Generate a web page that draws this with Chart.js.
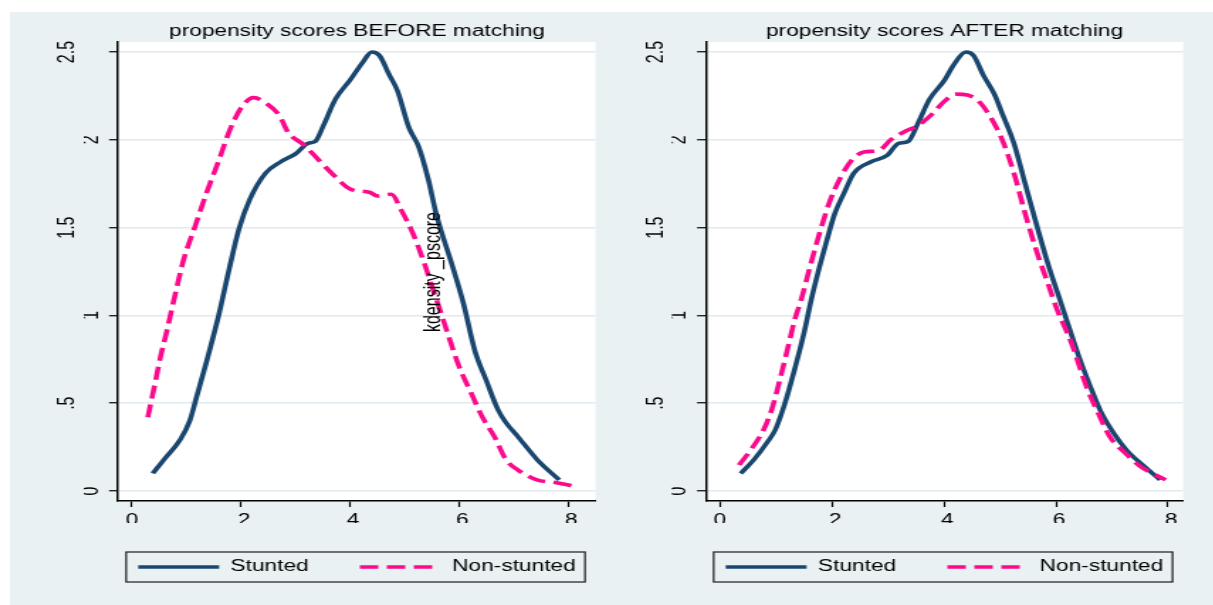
<!DOCTYPE html>
<html>
<head>
<meta charset="utf-8">
<script src="https://cdn.jsdelivr.net/npm/chart.js@4.4.1/dist/chart.umd.min.js"></script>
<style>
html, body { margin: 0; padding: 0; background: #ffffff; width: 1213px; height: 605px; overflow: hidden; }
#panel { position: absolute; left: 10px; top: 12px; width: 1203px; height: 593px; background: #eaf1f3; }
canvas { position: absolute; top: 12px; }
#c1 { left: 10px; }
#c2 { left: 606px; }
</style>
</head>
<body>
<div id="panel"></div>
<canvas id="c1" width="489" height="593" style="width:694px;height:593px"></canvas>
<canvas id="c2" width="477" height="593" style="width:677px;height:593px"></canvas>
<script>
// ---------- data ----------
const seriesNames = ['Stunted', 'Non-stunted'];
const panelTitles = ['propensity scores BEFORE matching', 'propensity scores AFTER matching'];
const yAxisNote = 'kdensity _pscore';

const xTicks = [0, 0.2, 0.4, 0.6, 0.8];
const xTickLabels = ['0', '.2', '.4', '.6', '.8'];
const yTicks = [0, 0.5, 1, 1.5, 2, 2.5];
const yTickLabels = ['0', '.5', '1', '1.5', '2', '2.5'];

const beforeStuntedX = [0.038,0.059,0.088,0.106,0.118,0.137,0.159,0.178,0.196,0.216,0.245,0.273,0.300,0.323,0.336,0.351,0.373,0.400,0.423,0.440,0.454,0.472,0.487,0.508,0.526,0.544,0.558,0.586,0.608,0.629,0.650,0.672,0.686,0.708,0.743,0.784];
const beforeStuntedY = [0.10,0.18,0.29,0.40,0.53,0.74,1.00,1.26,1.49,1.66,1.81,1.875,1.92,1.98,1.99,2.08,2.23,2.34,2.44,2.50,2.48,2.37,2.28,2.07,1.96,1.77,1.58,1.30,1.07,0.80,0.63,0.46,0.39,0.31,0.18,0.063];

const beforeNonStuntedX = [0.029,0.042,0.052,0.063,0.077,0.095,0.116,0.137,0.159,0.180,0.202,0.223,0.245,0.270,0.287,0.316,0.344,0.373,0.400,0.437,0.450,0.476,0.494,0.515,0.536,0.551,0.563,0.579,0.600,0.622,0.643,0.665,0.686,0.708,0.743,0.779,0.815];
const beforeNonStuntedY = [0.42,0.61,0.76,0.90,1.09,1.32,1.51,1.70,1.88,2.06,2.19,2.24,2.21,2.14,2.04,1.97,1.88,1.79,1.72,1.70,1.68,1.69,1.60,1.47,1.30,1.16,1.05,0.90,0.71,0.56,0.42,0.31,0.18,0.12,0.063,0.047,0.025];

const afterStuntedX = [0.037,0.061,0.085,0.099,0.116,0.133,0.150,0.163,0.178,0.191,0.205,0.222,0.239,0.270,0.298,0.319,0.336,0.353,0.374,0.401,0.418,0.439,0.453,0.470,0.490,0.504,0.525,0.545,0.566,0.587,0.607,0.621,0.641,0.662,0.679,0.703,0.727,0.758,0.786];
const afterStuntedY = [0.10,0.18,0.28,0.35,0.50,0.69,0.90,1.09,1.28,1.43,1.58,1.70,1.81,1.875,1.91,1.98,1.99,2.09,2.23,2.34,2.43,2.50,2.48,2.37,2.26,2.15,1.98,1.75,1.51,1.28,1.09,0.955,0.765,0.59,0.46,0.33,0.23,0.14,0.063];

const afterNonStuntedX = [0.034,0.054,0.078,0.092,0.105,0.120,0.133,0.145,0.161,0.178,0.195,0.216,0.237,0.257,0.284,0.305,0.332,0.353,0.380,0.401,0.421,0.442,0.462,0.483,0.504,0.525,0.545,0.566,0.587,0.600,0.628,0.655,0.676,0.696,0.724,0.751,0.796];
const afterNonStuntedY = [0.148,0.23,0.35,0.46,0.61,0.80,0.97,1.09,1.28,1.47,1.64,1.79,1.89,1.93,1.94,2.00,2.05,2.08,2.15,2.22,2.26,2.255,2.22,2.13,2.00,1.81,1.58,1.36,1.17,1.05,0.84,0.59,0.44,0.31,0.215,0.14,0.063];

// ---------- styling ----------
const NAVY = '#1a476f';
const PINK = '#fb0a8c';
const GRID = '#e1eaee';
Chart.defaults.font.family = "'Liberation Sans', Arial, sans-serif";
Chart.defaults.font.size = 16;
Chart.defaults.color = '#000';

const toPts = (xs, ys) => xs.map((x, i) => ({ x: x, y: ys[i] }));

const plotBg = {
  id: 'plotBg',
  beforeDraw(chart) {
    const { ctx, chartArea: a } = chart;
    ctx.save();
    ctx.fillStyle = '#ffffff';
    ctx.fillRect(a.left, a.top, a.width, a.height);
    ctx.restore();
  }
};

const legendFrame = {
  id: 'legendFrame',
  afterDraw(chart) {
    const lg = chart.legend;
    if (!lg || !lg.legendHitBoxes || !lg.legendHitBoxes.length) return;
    const hb = lg.legendHitBoxes;
    const l = Math.min(...hb.map(h => h.left)) - 8.5;
    const r = Math.max(...hb.map(h => h.left + h.width)) + 6.5;
    const cy = hb[0].top + hb[0].height / 2;
    const ctx = chart.ctx;
    ctx.save();
    ctx.setLineDash([]);
    ctx.strokeStyle = '#2b2b2b';
    ctx.lineWidth = 1.3;
    ctx.strokeRect(l, cy - 15, r - l, 30);
    ctx.restore();
  }
};

const notePlugin = {
  id: 'note',
  afterDatasetsDraw(chart, args, o) {
    if (!o || !o.text) return;
    const ctx = chart.ctx;
    const px = chart.scales.x.getPixelForValue(o.x);
    const py = chart.scales.y.getPixelForValue(o.y);
    ctx.save();
    ctx.translate(px, py);
    ctx.rotate(-Math.PI / 2);
    ctx.font = "16px 'Liberation Sans', Arial, sans-serif";
    ctx.fillStyle = '#000';
    ctx.textAlign = 'center';
    ctx.textBaseline = 'middle';
    ctx.fillText(o.text, 0, 0);
    ctx.restore();
  }
};

function makePanel(id, p) {
  const yMin = -0.057, yMax = 2.557;
  return new Chart(document.getElementById(id), {
    type: 'line',
    data: {
      datasets: [
        { label: seriesNames[0], data: toPts(p.sx, p.sy), borderColor: NAVY, backgroundColor: NAVY,
          borderWidth: 3.6, pointRadius: 0, cubicInterpolationMode: 'monotone', fill: false, order: 1 },
        { label: seriesNames[1], data: toPts(p.nx, p.ny), borderColor: PINK, backgroundColor: PINK,
          borderWidth: 3.6, borderDash: [13, 6], borderCapStyle: 'butt', pointRadius: 0,
          cubicInterpolationMode: 'monotone', fill: false, order: 0 }
      ]
    },
    options: {
      responsive: false,
      animation: false,
      devicePixelRatio: 1,
      events: [],
      layout: { padding: { left: 0, right: 0, top: 0, bottom: 20 } },
      scales: {
        x: {
          type: 'linear', position: 'bottom', min: p.xMin, max: p.xMax,
          afterBuildTicks: s => { s.ticks = xTicks.map(v => ({ value: v })); },
          ticks: { callback: v => xTickLabels[xTicks.indexOf(v)], maxRotation: 0, minRotation: 0,
                   autoSkip: false, padding: 4, color: '#000', font: { size: 16 } },
          grid: { display: true, drawOnChartArea: false, drawTicks: true, tickLength: 6,
                  tickColor: '#000', tickWidth: 1.2, color: '#000' },
          border: { display: true, color: '#000', width: 1.6 },
          afterFit: s => { s.height = 22; }
        },
        y: {
          type: 'linear', position: 'left', weight: 0, min: yMin, max: yMax,
          afterBuildTicks: s => { s.ticks = yTicks.map(v => ({ value: v })); },
          ticks: { callback: v => { const i = yTicks.indexOf(v); return i % 2 === 0 ? yTickLabels[i] : ''; },
                   minRotation: 90, maxRotation: 90, crossAlign: 'center', autoSkip: false,
                   padding: 8.25, color: '#000', font: { size: 16 } },
          grid: { color: GRID, lineWidth: 1.5, drawTicks: true, tickLength: 6.3, tickColor: '#000', tickWidth: 1.2 },
          border: { display: true, color: '#000', width: 1.5 },
          afterFit: s => { s.width = p.yBW; }
        },
        yA: {
          type: 'linear', position: 'left', weight: 10, min: yMin, max: yMax,
          afterBuildTicks: s => { s.ticks = yTicks.filter((v, i) => i % 2 === 1).map(v => ({ value: v })); },
          ticks: { callback: v => yTickLabels[yTicks.indexOf(v)], minRotation: 90, maxRotation: 90,
                   crossAlign: 'center', autoSkip: false, padding: 0, color: '#000', font: { size: 16 } },
          grid: { display: false, drawTicks: false },
          border: { display: false },
          afterFit: s => { s.width = p.yAW; }
        },
        yR: {
          type: 'linear', position: 'right', min: 0, max: 1,
          ticks: { display: false },
          grid: { display: false, drawTicks: false },
          border: { display: false },
          afterFit: s => { s.width = p.rightW; }
        }
      },
      plugins: {
        title: { display: true, text: p.title, fullSize: true, color: '#000',
                 font: { size: 16, weight: 'normal' }, padding: { top: 10, bottom: 0.8 } },
        legend: {
          display: true, position: 'bottom', fullSize: true, align: 'center',
          labels: {
            usePointStyle: true, pointStyleWidth: 57, padding: 36, color: '#000',
            font: { size: 16 },
            generateLabels: chart => chart.data.datasets.map((ds, i) => ({
              text: ds.label, strokeStyle: ds.borderColor, fillStyle: 'rgba(0,0,0,0)',
              lineWidth: ds.borderWidth, lineDash: ds.borderDash || [], lineCap: 'butt',
              pointStyle: 'line', rotation: 180, hidden: false, datasetIndex: i, fontColor: '#000'
            }))
          }
        },
        tooltip: { enabled: false },
        note: p.note || {}
      }
    },
    plugins: [plotBg, legendFrame, notePlugin]
  });
}

makePanel('c1', {
  title: panelTitles[0],
  sx: beforeStuntedX, sy: beforeStuntedY, nx: beforeNonStuntedX, ny: beforeNonStuntedY,
  xMin: -0.0257, xMax: 0.8505, yAW: 52.0, yBW: 24.1, rightW: 76.45,
  note: { text: yAxisNote, x: 0.553, y: 1.247 }
});
makePanel('c2', {
  title: panelTitles[1],
  sx: afterStuntedX, sy: afterStuntedY, nx: afterNonStuntedX, ny: afterNonStuntedY,
  xMin: -0.025, xMax: 0.827, yAW: 46.36, yBW: 24.1, rightW: 70.45
});
</script>
</body>
</html>
